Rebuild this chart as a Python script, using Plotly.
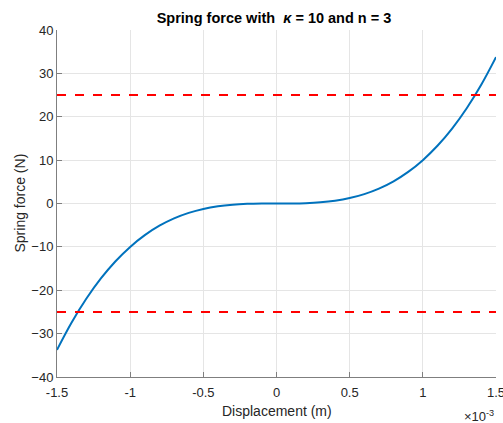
import plotly.graph_objects as go

# Displacement (m) and spring force (N)
displacement = [-1.5e-3, -1.4e-3, -1.3e-3, -1.2e-3, -1.1e-3, -1.0e-3, -0.9e-3, -0.8e-3,
                -0.7e-3, -0.6e-3, -0.5e-3, -0.4e-3, -0.3e-3, -0.2e-3, -0.1e-3, 0.0,
                0.1e-3, 0.2e-3, 0.3e-3, 0.4e-3, 0.5e-3, 0.6e-3, 0.7e-3, 0.8e-3,
                0.9e-3, 1.0e-3, 1.1e-3, 1.2e-3, 1.3e-3, 1.4e-3, 1.5e-3]
force = [-33.75, -27.44, -21.97, -17.28, -13.31, -10.0, -7.29, -5.12,
         -3.43, -2.16, -1.25, -0.64, -0.27, -0.08, -0.01, 0.0,
         0.01, 0.08, 0.27, 0.64, 1.25, 2.16, 3.43, 5.12,
         7.29, 10.0, 13.31, 17.28, 21.97, 27.44, 33.75]
limit_force = 25

x_tickvals = [-1.5e-3, -1e-3, -0.5e-3, 0, 0.5e-3, 1e-3, 1.5e-3]
x_ticktext = ["-1.5", "-1", "-0.5", "0", "0.5", "1", "1.5"]
y_tickvals = [-40, -30, -20, -10, 0, 10, 20, 30, 40]

FONT = "Liberation Sans, Arial, Helvetica, sans-serif"
TXT = "#262626"

fig = go.Figure()
fig.add_trace(go.Scatter(x=displacement, y=force, mode="lines",
                         line=dict(color="#0072BD", width=2, shape="spline"),
                         showlegend=False))
for s in (1, -1):
    fig.add_trace(go.Scatter(x=[displacement[0], displacement[-1]],
                             y=[s * limit_force, s * limit_force], mode="lines",
                             line=dict(color="#FF0000", width=2, dash="dash"),
                             showlegend=False))

axis_common = dict(showline=True, linecolor="#7f7f7f", linewidth=1,
                   ticks="inside", ticklen=5, tickcolor="#7f7f7f",
                   showgrid=True, gridcolor="#e5e5e5", gridwidth=1,
                   zeroline=False, mirror=False,
                   tickfont=dict(family=FONT, size=13, color=TXT))

fig.update_xaxes(range=[-1.5e-3, 1.5e-3], tickvals=x_tickvals, ticktext=x_ticktext,
                 ticklabeloverflow="allow", ticklabelstandoff=3, **axis_common)
fig.update_yaxes(range=[-40, 40], tickvals=y_tickvals, **axis_common)

fig.update_layout(
    width=503, height=423,
    margin=dict(l=57, r=7, t=30, b=46, autoexpand=False),
    paper_bgcolor="white", plot_bgcolor="white",
    title=dict(text="<b>Spring force with  <i>κ</i> = 10 and n = 3</b>",
               x=274 / 503, xanchor="center", y=1 - 18 / 423, yanchor="middle",
               font=dict(family=FONT, size=14.5, color="#000000")),
    annotations=[
        dict(text="Displacement (m)", x=0.5, xref="paper", y=(377 - 411) / 347, yref="paper",
             xanchor="center", yanchor="middle", showarrow=False,
             font=dict(family=FONT, size=14, color=TXT)),
        dict(text="Spring force (N)", x=(19 - 57) / 439, xref="paper", y=0.5, yref="paper",
             xanchor="center", yanchor="middle", textangle=-90, showarrow=False,
             font=dict(family=FONT, size=14, color=TXT)),
        dict(text="×10<sup>-3</sup>", x=1.0, xref="paper", y=(377 - 416) / 347, yref="paper",
             xanchor="right", yanchor="middle", showarrow=False,
             font=dict(family=FONT, size=13, color=TXT)),
    ],
)

fig.write_html("out.html")
